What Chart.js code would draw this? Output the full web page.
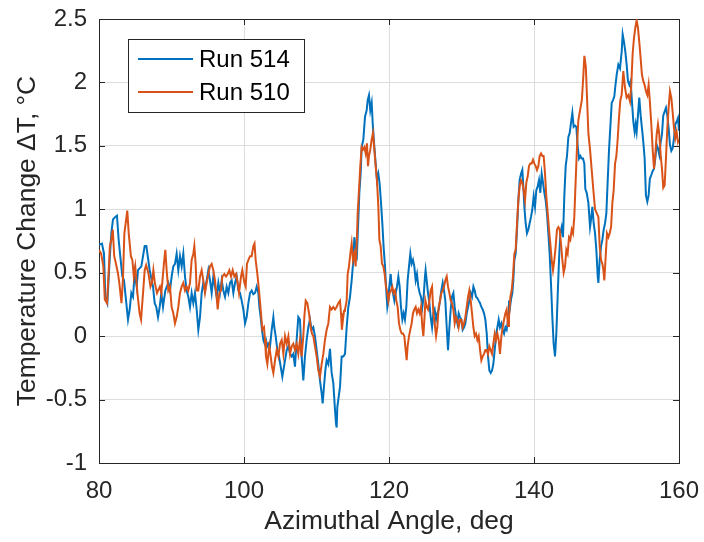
<!DOCTYPE html>
<html>
<head>
<meta charset="utf-8">
<script src="https://cdn.jsdelivr.net/npm/chart.js@4"></script>
<style>
  body { margin: 0; background: #fff; }
  #wrap { width: 704px; height: 542px; }
</style>
</head>
<body>
<div id="wrap"><canvas id="chart" width="704" height="542"></canvas></div>
<script>
const seriesNames = ['Run 514', 'Run 510'];
const xTicks = [80, 100, 120, 140, 160];
const yTicks = [-1, -0.5, 0, 0.5, 1, 1.5, 2, 2.5];

// Run 514 (blue)
const angle514 = [80.00, 80.41, 80.69, 80.87, 81.15, 81.47, 81.70, 81.93, 82.25, 82.48, 82.71, 82.99, 83.22, 83.45, 83.68, 84.00, 84.23, 84.46, 84.69, 84.92,
  85.20, 85.38, 85.84, 86.30, 86.53, 86.99, 87.45, 87.68, 87.90, 88.14, 88.37, 88.60, 88.83, 89.15, 89.56, 89.79, 90.02, 90.25, 90.48, 90.71,
  90.94, 91.17, 91.40, 91.63, 91.86, 92.09, 92.32, 92.55, 92.78, 93.01, 93.24, 93.47, 93.70, 93.93, 94.16, 94.39, 94.62, 94.85, 95.08, 95.31,
  95.54, 95.77, 96.00, 96.23, 96.46, 96.69, 96.92, 97.15, 97.38, 97.61, 97.84, 98.07, 98.30, 98.53, 98.76, 98.99, 99.22, 99.45, 99.68, 99.91,
  100.14, 100.37, 100.60, 100.83, 101.06, 101.29, 101.52, 101.75, 101.98, 102.12, 102.30, 102.48, 102.67, 102.85, 103.03, 103.22, 103.40, 103.59, 103.82, 104.05,
  104.18, 104.37, 104.60, 104.83, 105.06, 105.29, 105.43, 105.66, 105.89, 106.12, 106.35, 106.58, 106.80, 107.03, 107.26, 107.49, 107.72, 107.95, 108.18, 108.41,
  108.64, 108.87, 109.10, 109.33, 109.56, 109.79, 110.02, 110.25, 110.48, 110.71, 110.85, 111.03, 111.22, 111.40, 111.63, 111.86, 112.09, 112.32, 112.55, 112.69,
  112.78, 112.87, 113.01, 113.24, 113.47, 113.70, 113.93, 114.16, 114.39, 114.62, 114.85, 115.08, 115.22, 115.40, 115.58, 115.77, 115.91, 116.09, 116.23, 116.46,
  116.69, 116.92, 117.06, 117.24, 117.42, 117.61, 117.75, 117.98, 118.16, 118.34, 118.53, 118.71, 118.90, 119.08, 119.26, 119.45, 119.59, 119.77, 119.91, 120.04,
  120.23, 120.37, 120.55, 120.74, 120.92, 121.10, 121.29, 121.47, 121.65, 121.84, 122.02, 122.20, 122.39, 122.57, 122.76, 122.94, 123.12, 123.31, 123.49, 123.68,
  123.86, 124.04, 124.23, 124.41, 124.60, 124.78, 124.96, 125.05, 125.20, 125.38, 125.57, 125.75, 125.94, 126.12, 126.30, 126.49, 126.67, 126.85, 127.04, 127.22,
  127.41, 127.59, 127.77, 127.96, 128.14, 128.33, 128.51, 128.69, 128.88, 129.06, 129.25, 129.43, 129.61, 129.80, 129.98, 130.16, 130.35, 130.53, 130.72, 130.90,
  131.08, 131.27, 131.45, 131.64, 131.82, 132.00, 132.19, 132.37, 132.56, 132.74, 132.92, 133.11, 133.29, 133.48, 133.66, 133.84, 134.03, 134.21, 134.39, 134.58,
  134.76, 134.95, 135.13, 135.31, 135.50, 135.68, 135.87, 136.05, 136.23, 136.42, 136.55, 136.69, 136.83, 137.01, 137.15, 137.29, 137.47, 137.66, 137.84, 138.02,
  138.21, 138.39, 138.53, 138.67, 138.85, 139.03, 139.22, 139.40, 139.59, 139.77, 139.95, 140.14, 140.32, 140.51, 140.69, 140.87, 141.06, 141.24, 141.43, 141.61,
  141.79, 141.98, 142.16, 142.34, 142.53, 142.71, 142.90, 143.08, 143.26, 143.45, 143.63, 143.82, 144.00, 144.18, 144.37, 144.55, 144.74, 144.92, 145.10, 145.29,
  145.47, 145.66, 145.84, 146.02, 146.21, 146.39, 146.57, 146.76, 146.94, 147.08, 147.27, 147.50, 147.73, 147.87, 148.05, 148.23, 148.42, 148.60, 148.79, 148.88,
  149.06, 149.25, 149.43, 149.61, 149.80, 149.98, 150.17, 150.35, 150.53, 150.72, 150.90, 151.08, 151.20, 151.40, 151.63, 151.86, 152.09, 152.23, 152.41, 152.60,
  152.78, 152.96, 153.15, 153.33, 153.51, 153.70, 153.88, 154.02, 154.16, 154.34, 154.52, 154.71, 154.89, 155.08, 155.26, 155.44, 155.63, 155.81, 155.98, 156.18,
  156.36, 156.55, 156.73, 156.92, 157.10, 157.28, 157.47, 157.65, 157.83, 158.02, 158.20, 158.39, 158.57, 158.75, 158.94, 159.12, 159.31, 159.49, 159.67, 159.86, 160.00];
const temp514 = [0.72, 0.73, 0.65, 0.31, 0.26, 0.60, 0.81, 0.92, 0.94, 0.95, 0.76, 0.60, 0.47, 0.44, 0.31, 0.13, 0.21, 0.34, 0.31, 0.50,
  0.39, 0.52, 0.55, 0.71, 0.71, 0.52, 0.39, 0.26, 0.23, 0.15, 0.23, 0.34, 0.23, 0.36, 0.42, 0.36, 0.47, 0.55, 0.57, 0.65,
  0.52, 0.63, 0.55, 0.65, 0.47, 0.36, 0.31, 0.23, 0.34, 0.26, 0.34, 0.21, 0.05, 0.15, 0.34, 0.42, 0.36, 0.44, 0.52, 0.44,
  0.34, 0.47, 0.39, 0.31, 0.42, 0.34, 0.44, 0.36, 0.31, 0.39, 0.34, 0.42, 0.44, 0.34, 0.42, 0.47, 0.36, 0.34, 0.28, 0.21,
  0.10, 0.15, 0.26, 0.34, 0.36, 0.33, 0.34, 0.39, 0.34, 0.23, 0.15, 0.05, -0.03, -0.06, -0.03, -0.08, -0.06, -0.08, 0.05, 0.15,
  0.07, 0.00, -0.11, -0.16, -0.24, -0.32, -0.27, -0.19, -0.11, -0.08, -0.14, -0.16, -0.14, -0.24, -0.03, 0.15, 0.13, -0.16, -0.35, -0.16,
  -0.03, 0.07, 0.13, 0.05, 0.07, 0.00, -0.11, -0.22, -0.35, -0.45, -0.53, -0.40, -0.27, -0.19, -0.22, -0.10, -0.29, -0.37, -0.58, -0.69,
  -0.72, -0.56, -0.50, -0.40, -0.16, -0.16, -0.14, 0.07, 0.23, 0.31, 0.44, 0.60, 0.78, 0.70, 0.65, 0.92, 1.13, 1.28, 1.49, 1.55,
  1.73, 1.78, 1.86, 1.90, 1.78, 1.84, 1.68, 1.49, 1.36, 1.23, 1.28, 1.20, 1.05, 0.89, 0.70, 0.55, 0.39, 0.23, 0.28, 0.39,
  0.49, 0.39, 0.34, 0.28, 0.34, 0.39, 0.47, 0.39, 0.23, 0.13, 0.18, 0.13, 0.23, 0.44, 0.55, 0.65, 0.57, 0.60, 0.55, 0.44,
  0.49, 0.39, 0.34, 0.31, 0.23, 0.31, 0.47, 0.52, 0.44, 0.34, 0.26, 0.15, 0.07, 0.18, 0.21, 0.13, 0.18, 0.21, 0.28, 0.36,
  0.42, 0.36, 0.28, 0.07, -0.11, 0.07, 0.21, 0.31, 0.34, 0.23, 0.15, 0.10, 0.18, 0.15, 0.13, 0.05, 0.07, 0.10, 0.18, 0.23,
  0.28, 0.34, 0.31, 0.39, 0.36, 0.31, 0.30, 0.28, 0.26, 0.23, 0.21, 0.18, 0.13, 0.02, -0.16, -0.27, -0.29, -0.27, -0.22, -0.11,
  0.00, 0.07, 0.13, 0.07, 0.10, 0.05, 0.02, 0.07, 0.05, 0.13, 0.28, 0.23, 0.29, 0.34, 0.44, 0.60, 0.65, 0.84, 1.07, 1.23,
  1.28, 1.31, 1.18, 1.02, 0.89, 0.81, 0.84, 0.89, 0.94, 1.00, 1.10, 1.02, 1.15, 1.18, 1.23, 1.13, 1.28, 1.21, 1.13, 1.07,
  0.97, 0.81, 0.65, 0.42, 0.15, -0.06, -0.16, 0.02, 0.31, 0.60, 0.81, 0.86, 0.78, 1.10, 1.34, 1.42, 1.57, 1.60, 1.68, 1.76,
  1.65, 1.66, 1.65, 1.50, 1.40, 1.42, 1.40, 1.40, 1.36, 1.16, 1.13, 1.05, 0.86, 0.92, 1.02, 0.89, 0.81, 0.68, 0.47, 0.42,
  0.60, 0.71, 0.76, 0.84, 0.89, 0.97, 1.23, 1.47, 1.65, 1.84, 1.86, 1.89, 1.96, 2.06, 2.14, 2.11, 2.24, 2.38, 2.32, 2.24,
  2.14, 2.01, 1.98, 2.01, 1.85, 1.69, 1.61, 1.67, 1.61, 1.74, 1.88, 1.74, 1.64, 1.53, 1.40, 1.11, 1.06, 1.11, 1.24, 1.27,
  1.30, 1.32, 1.40, 1.51, 1.48, 1.43, 1.53, 1.59, 1.74, 1.77, 1.80, 1.74, 1.64, 1.51, 1.46, 1.48, 1.56, 1.67, 1.69, 1.72, 1.62];

// Run 510 (orange)
const angle510 = [80.00, 80.30, 80.60, 80.80, 81.10, 81.30, 81.50, 81.70, 81.90, 82.10, 82.30, 82.60, 82.80, 83.10, 83.30, 83.50, 83.90, 84.10, 84.40, 84.60,
  84.80, 85.00, 85.30, 85.60, 85.80, 86.10, 86.30, 86.50, 86.80, 87.10, 87.30, 87.50, 87.70, 88.00, 88.40, 88.60, 89.00, 89.15, 89.33, 89.56,
  89.79, 90.02, 90.25, 90.48, 90.71, 90.94, 91.17, 91.40, 91.63, 91.86, 92.09, 92.32, 92.55, 92.78, 93.01, 93.15, 93.33, 93.47, 93.70, 93.93,
  94.16, 94.39, 94.62, 94.85, 95.08, 95.31, 95.54, 95.77, 96.00, 96.23, 96.37, 96.60, 96.83, 97.01, 97.29, 97.52, 97.75, 97.98, 98.21, 98.44,
  98.67, 98.90, 99.13, 99.31, 99.59, 99.77, 100.05, 100.23, 100.41, 100.60, 100.83, 101.06, 101.29, 101.45, 101.61, 101.84, 102.07, 102.30, 102.53, 102.76,
  102.90, 103.03, 103.22, 103.36, 103.49, 103.68, 103.86, 104.05, 104.28, 104.51, 104.74, 104.97, 105.20, 105.43, 105.66, 105.89, 106.12, 106.35, 106.58, 106.80,
  107.03, 107.26, 107.49, 107.72, 107.95, 108.18, 108.32, 108.51, 108.74, 108.97, 109.20, 109.38, 109.56, 109.79, 110.02, 110.25, 110.48, 110.71, 110.94, 111.17,
  111.40, 111.63, 111.86, 112.09, 112.32, 112.55, 112.78, 113.01, 113.24, 113.38, 113.50, 113.65, 113.80, 113.93, 114.16, 114.30, 114.48, 114.67, 114.85, 115.03,
  115.22, 115.40, 115.58, 115.68, 115.86, 116.04, 116.23, 116.41, 116.60, 116.78, 116.96, 117.10, 117.24, 117.42, 117.61, 117.79, 117.98, 118.16, 118.34, 118.53,
  118.67, 118.85, 119.03, 119.22, 119.40, 119.58, 119.77, 119.91, 120.09, 120.27, 120.46, 120.64, 120.83, 121.01, 121.19, 121.38, 121.56, 121.75, 121.93, 122.11,
  122.30, 122.44, 122.57, 122.76, 122.94, 123.12, 123.31, 123.49, 123.68, 123.86, 124.04, 124.23, 124.41, 124.60, 124.74, 124.90, 125.02, 125.20, 125.38, 125.57,
  125.75, 125.94, 126.12, 126.30, 126.49, 126.67, 126.85, 127.04, 127.22, 127.41, 127.59, 127.77, 127.96, 128.14, 128.33, 128.51, 128.69, 128.88, 129.06, 129.25,
  129.43, 129.61, 129.80, 129.98, 130.16, 130.35, 130.53, 130.72, 130.90, 131.08, 131.27, 131.45, 131.64, 131.82, 132.00, 132.19, 132.37, 132.56, 132.74, 132.92,
  133.11, 133.29, 133.48, 133.66, 133.84, 134.03, 134.21, 134.39, 134.58, 134.76, 134.95, 135.13, 135.31, 135.50, 135.68, 135.87, 136.05, 136.23, 136.42, 136.55,
  136.74, 136.92, 137.10, 137.29, 137.47, 137.66, 137.84, 138.02, 138.21, 138.39, 138.57, 138.76, 138.94, 139.13, 139.31, 139.49, 139.68, 139.86, 140.05, 140.23,
  140.41, 140.60, 140.78, 140.97, 141.15, 141.33, 141.52, 141.70, 141.89, 142.07, 142.25, 142.44, 142.62, 142.80, 142.99, 143.17, 143.36, 143.54, 143.72, 143.91,
  144.09, 144.28, 144.46, 144.64, 144.83, 145.01, 145.20, 145.38, 145.56, 145.75, 145.93, 146.11, 146.35, 146.60, 146.80, 146.95, 147.15, 147.30, 147.50, 147.73,
  147.96, 148.19, 148.42, 148.65, 148.88, 149.06, 149.25, 149.43, 149.57, 149.70, 149.89, 150.07, 150.26, 150.44, 150.63, 150.81, 150.99, 151.18, 151.36, 151.54,
  151.73, 151.91, 152.09, 152.32, 152.55, 152.78, 153.01, 153.24, 153.42, 153.60, 153.79, 153.97, 154.16, 154.34, 154.52, 154.71, 154.89, 155.08, 155.26, 155.44,
  155.63, 155.81, 155.98, 156.18, 156.36, 156.55, 156.73, 156.92, 157.10, 157.28, 157.47, 157.65, 157.83, 158.02, 158.20, 158.39, 158.57, 158.75, 158.94, 159.12,
  159.31, 159.49, 159.67, 159.86, 160.00];
const temp510 = [0.68, 0.65, 0.55, 0.29, 0.26, 0.47, 0.71, 0.76, 0.84, 0.63, 0.58, 0.50, 0.42, 0.26, 0.45, 0.81, 0.99, 0.81, 0.63, 0.60,
  0.47, 0.55, 0.34, 0.18, 0.13, 0.36, 0.52, 0.56, 0.50, 0.39, 0.42, 0.52, 0.42, 0.34, 0.39, 0.34, 0.60, 0.68, 0.52, 0.36,
  0.39, 0.23, 0.18, 0.10, 0.15, 0.23, 0.34, 0.39, 0.42, 0.36, 0.39, 0.36, 0.42, 0.60, 0.65, 0.71, 0.57, 0.36, 0.36, 0.47,
  0.52, 0.44, 0.34, 0.42, 0.49, 0.55, 0.57, 0.52, 0.44, 0.31, 0.21, 0.34, 0.36, 0.47, 0.49, 0.47, 0.49, 0.52, 0.47, 0.52,
  0.47, 0.49, 0.42, 0.34, 0.47, 0.52, 0.42, 0.39, 0.57, 0.60, 0.63, 0.63, 0.71, 0.73, 0.60, 0.49, 0.36, 0.21, 0.05, 0.07,
  -0.03, -0.16, -0.22, -0.14, -0.08, -0.16, -0.24, -0.29, -0.19, -0.11, -0.16, -0.06, -0.03, -0.14, 0.00, -0.06, 0.00, -0.14, -0.08, -0.06,
  -0.11, -0.06, -0.14, -0.03, -0.16, 0.00, 0.15, 0.28, 0.26, 0.18, 0.07, 0.02, 0.00, -0.08, -0.16, -0.27, -0.32, -0.22, -0.14, -0.03,
  0.05, 0.10, 0.23, 0.21, 0.23, 0.21, 0.23, 0.26, 0.28, 0.18, 0.05, 0.13, 0.20, 0.21, 0.28, 0.49, 0.55, 0.65, 0.73, 0.60,
  0.65, 0.55, 0.78, 0.97, 1.15, 1.34, 1.49, 1.47, 1.49, 1.44, 1.52, 1.34, 1.42, 1.47, 1.55, 1.60, 1.47, 1.34, 1.23, 1.02,
  0.76, 0.71, 0.57, 0.55, 0.49, 0.39, 0.34, 0.28, 0.34, 0.36, 0.39, 0.34, 0.36, 0.28, 0.23, 0.10, 0.05, 0.02, 0.02, 0.00,
  -0.11, -0.19, -0.08, 0.00, 0.05, 0.10, 0.18, 0.21, 0.23, 0.18, 0.21, 0.18, 0.23, 0.07, 0.00, 0.15, 0.28, 0.23, 0.21, 0.28,
  0.36, 0.39, 0.18, 0.10, 0.00, 0.07, 0.23, 0.28, 0.34, 0.36, 0.39, 0.44, 0.47, 0.39, 0.34, 0.28, 0.26, 0.21, 0.10, 0.15,
  0.13, 0.07, 0.13, 0.13, 0.07, 0.10, 0.15, 0.23, 0.31, 0.36, 0.28, 0.18, 0.07, 0.00, 0.02, -0.03, 0.00, -0.11, -0.19, -0.16,
  -0.14, -0.11, -0.11, -0.14, -0.08, -0.11, -0.14, -0.06, 0.02, -0.03, 0.02, -0.03, -0.14, 0.00, 0.07, 0.13, 0.18, 0.21, 0.08, 0.15,
  0.31, 0.36, 0.47, 0.65, 0.68, 0.89, 1.07, 1.18, 1.23, 1.21, 1.15, 1.07, 1.21, 1.26, 1.34, 1.36, 1.36, 1.39, 1.36, 1.34,
  1.31, 1.34, 1.42, 1.44, 1.42, 1.42, 1.28, 1.10, 0.97, 0.84, 0.73, 0.60, 0.52, 0.60, 0.71, 0.84, 0.86, 0.84, 0.73, 0.60,
  0.50, 0.55, 0.68, 0.65, 0.78, 0.76, 0.84, 0.81, 0.94, 1.23, 1.49, 1.70, 1.78, 1.86, 2.05, 2.21, 2.12, 1.90, 1.60, 1.47,
  1.31, 1.15, 1.00, 0.97, 0.94, 0.71, 0.60, 0.57, 0.52, 0.44, 0.63, 0.81, 0.78, 0.81, 0.86, 1.05, 1.15, 1.36, 1.42, 1.55,
  1.73, 1.86, 1.90, 2.09, 1.96, 1.88, 1.90, 1.85, 1.98, 2.22, 2.35, 2.43, 2.49, 2.43, 2.32, 2.19, 2.06, 2.01, 1.98, 1.93,
  1.90, 1.98, 1.85, 1.67, 1.48, 1.32, 1.43, 1.59, 1.67, 1.59, 1.43, 1.32, 1.17, 1.19, 1.40, 1.64, 1.80, 1.93, 1.88, 1.77,
  1.64, 1.56, 1.61, 1.53, 1.55];

const blue = '#0072BD';
const orange = '#D95319';
const axisColor = '#262626';
const fontFamily = "'Liberation Sans', Arial, Helvetica, sans-serif";

function toPoints(xs, ys) {
  return xs.map((x, i) => ({ x: x, y: ys[i] }));
}

// box round the axes with inward ticks on all four sides, like matlab
const boxPlugin = {
  id: 'box',
  beforeDatasetsDraw(chart) {
    const { ctx, chartArea: a, scales } = chart;
    const tick = 6;
    ctx.save();
    ctx.strokeStyle = axisColor;
    ctx.lineWidth = 1;
    ctx.beginPath();
    xTicks.forEach(v => {
      const px = Math.round(scales.x.getPixelForValue(v)) + 0.5;
      ctx.moveTo(px, a.bottom); ctx.lineTo(px, a.bottom - tick);
      ctx.moveTo(px, a.top); ctx.lineTo(px, a.top + tick);
    });
    yTicks.forEach(v => {
      const py = Math.round(scales.y.getPixelForValue(v)) + 0.5;
      ctx.moveTo(a.left, py); ctx.lineTo(a.left + tick, py);
      ctx.moveTo(a.right, py); ctx.lineTo(a.right - tick, py);
    });
    ctx.stroke();
    ctx.strokeRect(Math.round(a.left) + 0.5, Math.round(a.top) + 0.5,
      Math.round(a.right - a.left), Math.round(a.bottom - a.top));
    ctx.restore();
  }
};

const legendPlugin = {
  id: 'boxLegend',
  afterDraw(chart) {
    const ctx = chart.ctx;
    const x0 = 128, y0 = 39, w = 176, h = 73;
    ctx.save();
    ctx.fillStyle = '#fff';
    ctx.fillRect(x0, y0, w, h);
    ctx.strokeStyle = axisColor;
    ctx.lineWidth = 1;
    ctx.strokeRect(x0 + 0.5, y0 + 0.5, w, h);
    ctx.font = '24px ' + fontFamily;
    ctx.textBaseline = 'middle';
    chart.data.datasets.forEach((ds, i) => {
      const y = y0 + 20 + i * 33;
      ctx.strokeStyle = ds.borderColor;
      ctx.lineWidth = 2;
      ctx.beginPath();
      ctx.moveTo(x0 + 10, y);
      ctx.lineTo(x0 + 65, y);
      ctx.stroke();
      ctx.fillStyle = '#000';
      ctx.fillText(ds.label, x0 + 71, y + 1);
    });
    ctx.restore();
  }
};

new Chart(document.getElementById('chart'), {
  type: 'line',
  data: {
    datasets: [
      {
        label: seriesNames[0],
        data: toPoints(angle514, temp514),
        borderColor: blue,
        backgroundColor: blue,
        borderWidth: 2,
        pointRadius: 0,
        tension: 0,
        order: 1
      },
      {
        label: seriesNames[1],
        data: toPoints(angle510, temp510),
        borderColor: orange,
        backgroundColor: orange,
        borderWidth: 2,
        pointRadius: 0,
        tension: 0,
        order: 0
      }
    ]
  },
  options: {
    responsive: false,
    animation: false,
    devicePixelRatio: 1,
    layout: { padding: { top: 19, right: 25, left: 0, bottom: 0 } },
    plugins: {
      legend: { display: false },
      tooltip: { enabled: false }
    },
    scales: {
      x: {
        type: 'linear',
        min: xTicks[0],
        max: xTicks[xTicks.length - 1],
        afterFit: s => { s.height = 79; s.paddingLeft = 0; s.paddingRight = 0; },
        afterBuildTicks: s => { s.ticks = xTicks.map(v => ({ value: v })); },
        grid: { color: '#dedede', drawTicks: false },
        border: { display: false },
        ticks: { color: axisColor, font: { family: fontFamily, size: 24 }, padding: 14, maxRotation: 0,
          callback: v => String(v) },
        title: {
          display: true,
          text: 'Azimuthal Angle, deg',
          color: axisColor,
          font: { family: fontFamily, size: 26.4 },
          padding: { top: 0, bottom: 4 }
        }
      },
      y: {
        min: yTicks[0],
        max: yTicks[yTicks.length - 1],
        afterFit: s => { s.width = 99; s.paddingTop = 0; s.paddingBottom = 0; },
        afterBuildTicks: s => { s.ticks = yTicks.map(v => ({ value: v })); },
        grid: { color: '#dedede', drawTicks: false },
        border: { display: false },
        ticks: { color: axisColor, font: { family: fontFamily, size: 24 }, padding: 12,
          callback: v => String(v) },
        title: {
          display: true,
          text: 'Temperature Change \u0394T, \u00B0C',
          color: axisColor,
          font: { family: fontFamily, size: 26.4 },
          padding: { top: 12, bottom: 0 }
        }
      }
    }
  },
  plugins: [boxPlugin, legendPlugin]
});
</script>
</body>
</html>
